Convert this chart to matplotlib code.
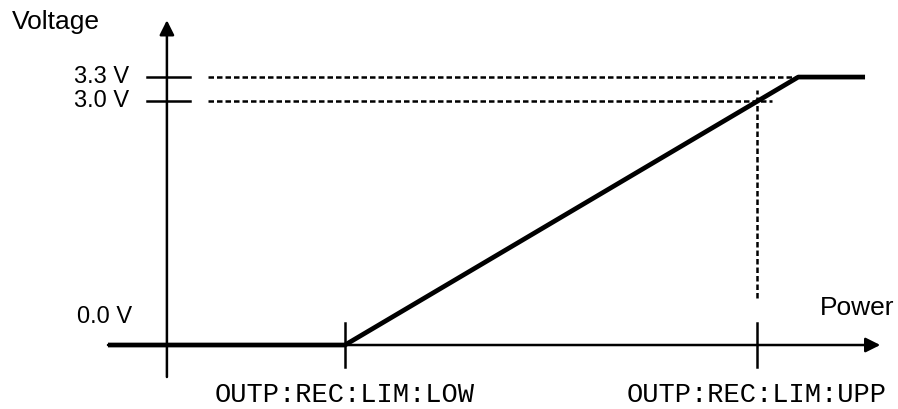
import matplotlib.pyplot as plt

# schematic: output voltage vs. input power (power in units where LOW=0, UPP=1)
ramp_power = [-0.575, 0.0, 1.1, 1.262]
ramp_volts = [0.0, 0.0, 3.3, 3.3]
tick_volts = [0.0, 3.0, 3.3]
tick_labels = ["0.0 V", "3.0 V", "3.3 V"]
limit_power = [0.0, 1.0]
limit_labels = ["OUTP:REC:LIM:LOW", "OUTP:REC:LIM:UPP"]

fig = plt.figure(figsize=(8.98, 4.09), dpi=100)
ax = fig.add_axes([0, 0, 1, 1])
ax.set_xlim(-0.837, 1.342)
ax.set_ylim(-0.788, 4.249)
ax.axis("off")

yax = -0.432
k = dict(color="black", lw=1.8)
dash = dict(color="black", lw=1.8, dashes=(2.2, 1.2))
sans = dict(family="Liberation Sans")

# axes with arrow heads
ax.annotate("", xy=(1.299, 0), xytext=(-0.575, 0),
            arrowprops=dict(arrowstyle="-|>", color="black", lw=1.8, mutation_scale=22,
                            shrinkA=0, shrinkB=0))
ax.annotate("", xy=(yax, 4.0), xytext=(yax, -0.394),
            arrowprops=dict(arrowstyle="-|>", color="black", lw=1.8, mutation_scale=22,
                            shrinkA=0, shrinkB=0))

# voltage ticks and dashed guides
for v, lab in zip(tick_volts, tick_labels):
    if v > 0:
        ax.plot([-0.481, -0.376], [v, v], **k)
        ax.text(-0.524, v, lab, ha="right", va="center", fontsize=17, **sans)
    else:
        ax.text(-0.517, 0.345, lab, ha="right", va="center", fontsize=17, **sans)

ax.plot([-0.333, 1.1], [3.3, 3.3], **dash)
ax.plot([-0.333, 1.036], [3.0, 3.0], **dash)
ax.plot([1.0, 1.0], [0.58, 3.14], **dash)

# limit ticks and labels
for p, lab in zip(limit_power, limit_labels):
    ax.plot([p, p], [-0.27, 0.27], **k)
    ax.text(p, -0.616, lab, ha="center", va="center", fontsize=19.5,
            family="Liberation Mono")

# transfer curve
ax.plot(ramp_power, ramp_volts, color="black", lw=3.4, solid_capstyle="butt")

ax.text(-0.808, 3.98, "Voltage", ha="left", va="center", fontsize=19, **sans)
ax.text(1.153, 0.45, "Power", ha="left", va="center", fontsize=19, **sans)

fig.savefig("out.png", dpi=100)
